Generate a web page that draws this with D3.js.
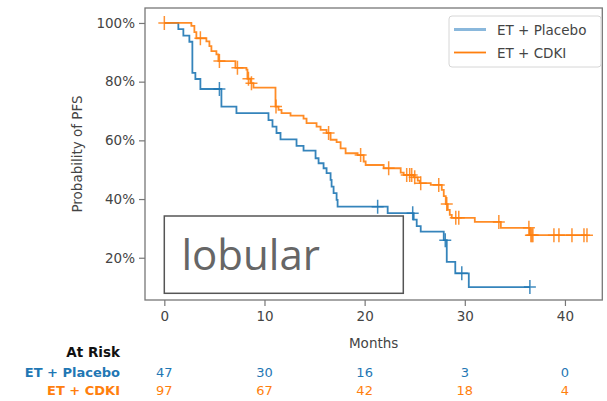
<!DOCTYPE html>
<html>
<head>
<meta charset="utf-8">
<script src="https://cdn.jsdelivr.net/npm/d3@7"></script>
<style>
  html, body { margin: 0; padding: 0; background: #fff; }
  svg { display: block; font-family: 'DejaVu Sans', sans-serif; }
</style>
</head>
<body>
<svg id="chart" width="607" height="401"></svg>
<script>
// step data: time of each drop (months) and PFS (%) after it
var placeboTimes = [1.4, 1.9, 2.5, 2.8, 3.1, 3.6, 5.7, 7.2, 10.4, 10.8, 11.2, 11.6, 13.2, 13.9, 15.1, 15.4, 15.9, 16.2, 16.6, 16.7, 16.9, 17.2, 17.3, 22.3, 24.9, 25.2, 25.6, 27.9, 28.2, 29.05, 30.4]
var placeboSurv = [97.9, 95.7, 93.6, 83.0, 80.9, 77.5, 71.5, 69.3, 66.9, 64.7, 62.5, 60.3, 58.1, 56.5, 53.9, 52.2, 50.5, 48.8, 46.5, 44.2, 42.0, 39.7, 37.4, 35.2, 33.0, 30.8, 28.9, 26.0, 18.6, 14.7, 10.0]
var placeboCensor = [5.5, 21.3, 24.8, 28.05, 29.7, 36.5]
var placeboEnd = 36.5

var cdkiTimes = [2.7, 3.0, 3.2, 4.2, 4.5, 4.7, 5.2, 5.4, 7.1, 8.2, 8.3, 8.6, 8.9, 11.1, 11.4, 11.7, 12.6, 13.9, 14.2, 15.2, 15.6, 16.2, 16.6, 17.2, 17.6, 18.1, 19.3, 19.9, 20.1, 21.9, 23.6, 23.9, 24.9, 25.3, 25.5, 26.6, 27.7, 27.9, 28.1, 28.3, 28.5, 28.7, 31.0, 33.6, 36.5]
var cdkiSurv = [99.0, 96.9, 94.8, 93.7, 92.1, 90.4, 89.3, 87.0, 84.7, 84.1, 81.0, 79.5, 78.0, 71.5, 70.4, 69.3, 68.4, 67.4, 65.9, 64.7, 63.6, 62.5, 60.2, 59.4, 57.3, 55.6, 55.0, 52.8, 51.6, 50.5, 49.0, 48.2, 47.4, 46.3, 45.4, 44.8, 43.1, 41.0, 38.3, 36.3, 34.6, 33.6, 32.2, 30.2, 27.7]
var cdkiCensor = [0, 3.6, 5.5, 7.3, 8.4, 8.7, 11.15, 16.4, 19.6, 22.4, 24.2, 24.5, 24.7, 25.0, 25.6, 27.4, 28.2, 29.1, 29.4, 33.4, 36.4, 36.6, 36.7, 36.8, 38.9, 39.4, 40.7, 41.9, 42.2]
var cdkiEnd = 42.2

var xTicks = [0, 10, 20, 30, 40]
  , yTicks = [20, 40, 60, 80, 100]

var riskTimes = [0, 10, 20, 30, 40]
  , placeboRisk = [47, 30, 16, 3, 0]
  , cdkiRisk = [97, 67, 42, 18, 4]

var seriesNames = ['ET + Placebo', 'ET + CDKI']
  , seriesColors = ['#1f77b4', '#ff7f0e']

var BLUE = seriesColors[0]
  , ORANGE = seriesColors[1]
  , AXIS = '#777'
  , TEXT = '#444'

var svg = d3.select('#chart')

var plot = {left: 145, top: 8, right: 602.3, bottom: 300}

var x = d3.scaleLinear()
  .domain([-1.93, 43.73])
  .range([plot.left, plot.right])

var y = d3.scaleLinear()
  .domain([5.6, 105.1])
  .range([plot.bottom, plot.top])

// axes
var xAxis = svg.append('g')
  .attr('transform', 'translate(0,' + plot.bottom + ')')
  .call(d3.axisBottom(x).tickValues(xTicks).tickSize(6).tickPadding(5))

var yAxis = svg.append('g')
  .attr('transform', 'translate(' + plot.left + ',0)')
  .call(d3.axisLeft(y).tickValues(yTicks).tickSize(6).tickPadding(4)
    .tickFormat(function(d) { return d + '%' }))

;[xAxis, yAxis].forEach(function(g) {
  g.select('.domain').remove()
  g.selectAll('line').attr('stroke', AXIS).attr('stroke-width', 1.2)
  g.selectAll('text')
    .attr('fill', TEXT)
    .style('font-family', 'DejaVu Sans')
    .style('font-size', '13.5px')
})

svg.append('rect')
  .attr('x', plot.left)
  .attr('y', plot.top)
  .attr('width', plot.right - plot.left)
  .attr('height', plot.bottom - plot.top)
  .attr('fill', 'none')
  .attr('stroke', AXIS)
  .attr('stroke-width', 1.3)

svg.append('text')
  .attr('transform', 'translate(82,' + ((plot.top + plot.bottom) / 2) + ') rotate(-90)')
  .attr('text-anchor', 'middle')
  .attr('fill', TEXT)
  .style('font-size', '13.5px')
  .text('Probability of PFS')

svg.append('text')
  .attr('x', (plot.left + plot.right) / 2)
  .attr('y', 348)
  .attr('text-anchor', 'middle')
  .attr('fill', TEXT)
  .style('font-size', '13.5px')
  .text('Months')

// curves
drawCurve(placeboTimes, placeboSurv, placeboCensor, placeboEnd, BLUE)
drawCurve(cdkiTimes, cdkiSurv, cdkiCensor, cdkiEnd, ORANGE)

function survAt(times, surv, t) {
  var s = 100
  for(var i = 0, len = times.length; i < len; ++i) {
    if(times[i] <= t) s = surv[i]
  }
  return s
}

function drawCurve(times, surv, censor, end, color) {
  var pts = [[0, 100]]
  for(var i = 0, len = times.length; i < len; ++i) {
    pts.push([times[i], surv[i]])
  }
  pts.push([end, surv[surv.length - 1]])

  var line = d3.line()
    .x(function(d) { return x(d[0]) })
    .y(function(d) { return y(d[1]) })
    .curve(d3.curveStepAfter)

  var g = svg.append('g')

  g.append('path')
    .attr('d', line(pts))
    .attr('fill', 'none')
    .attr('stroke', color)
    .attr('stroke-width', 1.8)
    .attr('opacity', 0.9)

  g.selectAll('.censor')
    .data(censor)
    .enter()
      .append('path')
      .attr('class', 'censor')
      .attr('d', function(t) {
        var cx = x(t)
          , cy = y(survAt(times, surv, t))
        return 'M' + (cx - 6) + ',' + cy + 'H' + (cx + 6) +
          'M' + cx + ',' + (cy - 7) + 'V' + (cy + 7)
      })
      .attr('fill', 'none')
      .attr('stroke', color)
      .attr('stroke-width', 1.5)
      .attr('opacity', 0.85)
}

// legend
var legend = svg.append('g')

legend.append('rect')
  .attr('x', 449)
  .attr('y', 16)
  .attr('width', 152)
  .attr('height', 51)
  .attr('rx', 3)
  .attr('fill', '#fff')
  .attr('stroke', '#d6d6d6')
  .attr('stroke-width', 1)

seriesNames.forEach(function(name, i) {
  var ly = 29.5 + i * 23
  legend.append('line')
    .attr('x1', 454).attr('x2', 486)
    .attr('y1', ly).attr('y2', ly)
    .attr('stroke', i === 0 ? '#8ab8dc' : seriesColors[i])
    .attr('stroke-width', i === 0 ? 3 : 1.8)
  legend.append('text')
    .attr('x', 497)
    .attr('y', ly + 5)
    .attr('fill', TEXT)
    .style('font-size', '13.5px')
    .text(name)
})

// lobular annotation box
svg.append('rect')
  .attr('x', 164.3)
  .attr('y', 216)
  .attr('width', 239)
  .attr('height', 77.3)
  .attr('fill', '#fff')
  .attr('stroke', '#555')
  .attr('stroke-width', 1.5)

svg.append('text')
  .attr('x', 181.5)
  .attr('y', 270)
  .attr('fill', '#666')
  .style('font-family', "'Open Sans', sans-serif")
  .style('font-size', '42px')
  .text('lobular')

// at risk table
svg.append('text')
  .attr('x', 120)
  .attr('y', 356.5)
  .attr('text-anchor', 'end')
  .attr('fill', '#111')
  .style('font-weight', 'bold')
  .style('font-size', '13.5px')
  .text('At Risk')

var riskRows = [placeboRisk, cdkiRisk]

riskRows.forEach(function(row, i) {
  var by = 376.5 + i * 18.5

  svg.append('text')
    .attr('x', 120)
    .attr('y', by)
    .attr('text-anchor', 'end')
    .attr('fill', seriesColors[i])
    .style('font-weight', 'bold')
    .style('font-size', '13px')
    .text(seriesNames[i])

  svg.selectAll('.risk' + i)
    .data(row)
    .enter()
      .append('text')
      .attr('class', 'risk' + i)
      .attr('x', function(d, j) { return x(riskTimes[j]) })
      .attr('y', by)
      .attr('text-anchor', 'middle')
      .attr('fill', seriesColors[i])
      .style('font-size', '13px')
      .text(function(d) { return d })
})
</script>
</body>
</html>
